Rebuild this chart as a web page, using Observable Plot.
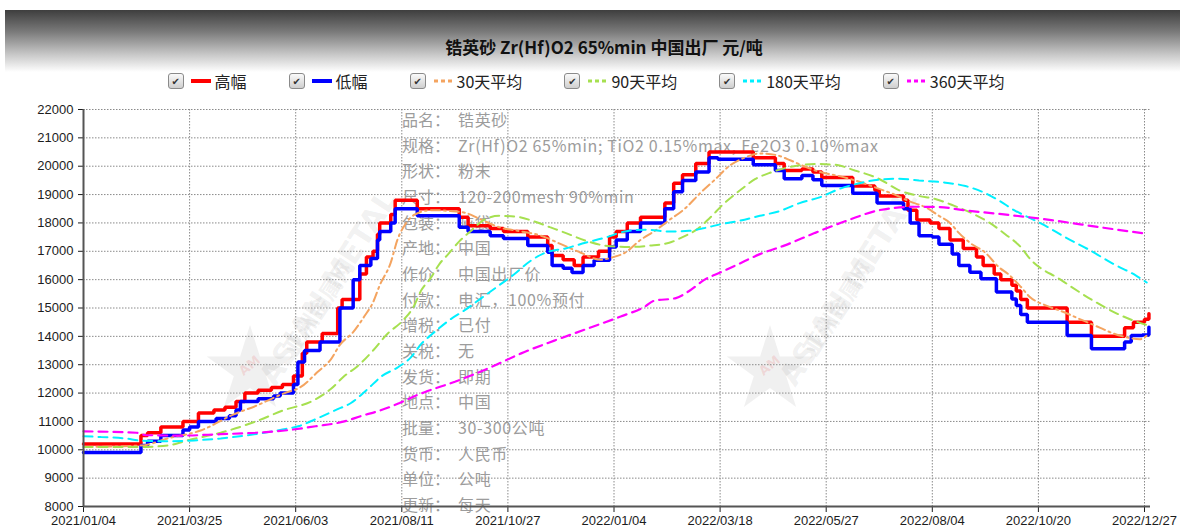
<!DOCTYPE html>
<html><head><meta charset="utf-8">
<script src="https://cdn.jsdelivr.net/npm/d3@7"></script>
<script src="https://cdn.jsdelivr.net/npm/@observablehq/plot@0.6"></script>
<style>
html,body{margin:0;padding:0;background:#fff;width:1180px;height:529px;overflow:hidden;font-family:"Liberation Sans",Arial,sans-serif}
#header{position:absolute;left:5px;top:10px;width:1175px;height:62px;background:linear-gradient(to bottom,#3e3e3e 0%,#7a7a7a 35%,#c4c4c4 70%,#ffffff 100%)}
#title{position:absolute;top:35px;left:14px;width:1180px;text-align:center;font:bold 17px "Noto Sans CJK SC",sans-serif;color:#111;line-height:24px}
#legend{position:absolute;top:71px;left:-4px;width:1180px;display:flex;justify-content:center;gap:42px;font:16px "Noto Sans CJK SC",sans-serif;color:#222;line-height:20px}
.item{display:flex;align-items:center}
.cb{width:14px;height:14px;border:1px solid #8a8a8a;border-radius:3px;background:linear-gradient(#fafafa,#cfcfcf);font:10px "DejaVu Sans";color:#333;display:flex;align-items:center;justify-content:center;margin-right:7px}
.sw{margin-right:4px}
#chart{position:absolute;left:0;top:95px;z-index:2}
#info{position:absolute;left:402px;top:107px;z-index:1;font:16px "Noto Sans CJK SC",sans-serif;color:#9c9c9c;line-height:25.67px;white-space:nowrap}
#info .lab{display:inline-block;width:56px;letter-spacing:0}
#info .val{letter-spacing:0.65px}
.wm{position:absolute;z-index:0;color:rgba(120,120,120,0.11);font:bold 30px "DejaVu Sans",sans-serif;white-space:nowrap;transform-origin:center}
.wm2{position:absolute;z-index:0;color:rgba(120,120,120,0.11);font:bold 22px "Noto Sans CJK SC",sans-serif;white-space:nowrap;transform-origin:center}
.star{position:absolute;z-index:0;width:90px;height:90px;background:rgba(150,150,150,0.14);clip-path:polygon(50% 0%,61% 35%,98% 35%,68% 57%,79% 91%,50% 70%,21% 91%,32% 57%,2% 35%,39% 35%)}
.am{position:absolute;z-index:0;color:rgba(230,80,80,0.16);font:bold 13px "DejaVu Sans";transform:rotate(-40deg)}
</style>
</head><body>
<div id="header"></div>
<div id="title">锆英砂 Zr(Hf)O2 65%min 中国出厂 元/吨</div>
<div id="legend"></div>
<div class="star" style="left:205px;top:325px"></div><div class="am" style="left:238px;top:358px">AM</div>
<div class="wm" style="left:215px;top:270px;transform:rotate(-57deg)">ASIAN METAL</div>
<div class="wm2" style="left:262px;top:290px;transform:rotate(-57deg)">亚洲金属网</div>
<div class="star" style="left:725px;top:325px"></div><div class="am" style="left:758px;top:358px">AM</div>
<div class="wm" style="left:735px;top:270px;transform:rotate(-57deg)">ASIAN METAL</div>
<div class="wm2" style="left:782px;top:290px;transform:rotate(-57deg)">亚洲金属网</div>
<div id="info"></div>
<div id="chart"></div>
<script>
// x positions are trading-day indices; tick labels every 48 trading days
const tickDays = [0,48,96,144,192,240,288,336,384,432,480];
const tickLabels = ["2021/01/04","2021/03/25","2021/06/03","2021/08/11","2021/10/27","2022/01/04","2022/03/18","2022/05/27","2022/08/04","2022/10/20","2022/12/27"];
const yTicks = [8000,9000,10000,11000,12000,13000,14000,15000,16000,17000,18000,19000,20000,21000,22000];

const seriesNames = ["高幅","低幅","30天平均","90天平均","180天平均","360天平均"];

// [trading day, price] — step changes
const highPrice = [[0,10200],[26,10500],[29,10600],[35,10800],[45,11000],[52,11300],[59,11400],[64,11500],[69,11700],[73,12000],[79,12100],[85,12200],[90,12300],[95,12600],[99,13400],[101,13800],[108,14100],[115,15000],[117,15300],[125,16200],[128,16800],[131,17000],[133,17600],[134,18000],[139,18300],[141,18800],[151,18500],[170,18200],[174,17900],[184,17800],[190,17700],[201,17500],[210,17200],[212,16850],[217,16700],[222,16500],[226,16800],[233,17000],[238,17500],[241,17700],[246,18000],[252,18200],[263,18700],[267,19400],[271,19700],[277,20100],[283,20500],[303,20300],[313,20100],[317,19850],[325,19900],[330,19800],[334,19600],[348,19300],[358,19150],[360,18950],[371,18800],[373,18450],[377,18100],[383,18000],[387,17800],[392,17400],[398,17100],[404,16800],[407,16500],[412,16200],[415,16000],[420,15800],[422,15600],[424,15300],[427,15000],[445,14500],[456,14000],[471,14300],[475,14500],[480,14600],[482,14800]];
const lowPrice = [[0,9900],[26,10150],[29,10300],[35,10500],[45,10700],[48,10800],[52,11000],[60,11100],[66,11200],[69,11400],[71,11700],[79,11800],[86,11900],[89,12000],[95,12300],[97,13100],[100,13500],[107,13800],[116,15000],[122,16000],[125,16500],[130,16750],[133,17400],[134,17700],[139,18000],[141,18500],[151,18250],[170,17850],[174,17700],[184,17550],[190,17450],[201,17200],[210,16970],[212,16500],[217,16400],[221,16250],[226,16500],[231,16680],[238,17150],[241,17400],[246,17700],[252,18000],[263,18500],[267,19100],[271,19500],[277,19800],[283,20300],[287,20250],[303,20050],[313,19850],[317,19560],[325,19670],[330,19520],[334,19320],[348,19050],[359,18700],[371,18500],[374,18000],[378,17550],[384,17500],[387,17250],[393,16900],[396,16500],[401,16260],[406,16030],[413,15560],[420,15320],[422,15090],[424,14770],[427,14500],[445,14030],[456,13560],[471,13800],[474,14030],[479,14050],[482,14320]];

// moving averages [trading day, price]
const avg30 = [[0,10100],[26,10150],[39,10420],[53,10680],[68,11250],[78,11550],[91,12000],[98,12200],[106,12750],[112,13200],[116,13700],[122,14150],[127,14700],[131,15200],[134,15800],[139,16600],[142,17400],[146,18000],[150,18300],[157,18450],[166,18420],[173,18350],[179,18150],[188,17850],[198,17700],[207,17550],[216,17250],[225,16950],[234,16700],[239,16780],[245,16950],[252,17400],[259,17750],[265,18100],[272,18500],[279,19050],[286,19550],[292,20000],[299,20300],[306,20450],[313,20400],[320,20200],[326,20000],[333,19800],[342,19650],[351,19450],[360,19200],[367,19000],[374,18750],[381,18550],[387,18250],[392,18000],[396,17650],[401,17300],[408,16950],[414,16450],[419,16150],[424,15750],[428,15400],[435,15100],[442,14900],[451,14600],[460,14300],[466,14100],[473,13950],[478,13900],[482,14100]];
const avg90 = [[0,10100],[26,10100],[38,10150],[47,10330],[62,10600],[78,11000],[90,11380],[104,11740],[112,12150],[118,12600],[124,12950],[131,13500],[137,14050],[145,14600],[149,15000],[153,15650],[157,16050],[161,16550],[165,16900],[170,17350],[175,17700],[181,18100],[188,18250],[196,18220],[204,18050],[211,17850],[218,17650],[227,17380],[236,17200],[247,17150],[256,17200],[265,17300],[271,17500],[278,17800],[283,18150],[290,18700],[297,19150],[304,19550],[311,19780],[320,19980],[331,20080],[340,20050],[349,19850],[360,19550],[369,19150],[378,18950],[385,18850],[394,18600],[403,18300],[410,18000],[417,17600],[424,17150],[428,16750],[442,16000],[457,15250],[469,14750],[477,14500],[481,14400]];
const avg180 = [[0,10480],[8,10450],[19,10400],[26,10320],[37,10300],[50,10330],[62,10400],[75,10520],[89,10700],[98,10850],[105,11080],[114,11400],[121,11650],[128,12100],[135,12600],[142,12900],[148,13250],[153,13750],[158,14100],[166,14600],[173,14950],[180,15350],[188,15800],[195,16200],[202,16650],[209,16950],[218,17100],[227,17300],[236,17480],[245,17700],[254,17760],[265,17700],[274,17720],[281,17820],[288,17950],[297,18080],[306,18250],[315,18420],[324,18700],[333,18900],[342,19200],[351,19400],[360,19530],[369,19560],[378,19500],[390,19420],[399,19300],[408,19050],[414,18800],[421,18450],[428,18180],[434,17950],[444,17500],[455,17050],[466,16550],[476,16150],[481,15900]];
const avg360 = [[0,10650],[24,10600],[28,10520],[44,10500],[62,10550],[78,10600],[91,10680],[105,10830],[118,11000],[126,11200],[134,11380],[143,11650],[150,11900],[155,12050],[168,12400],[184,12900],[198,13400],[213,13850],[229,14300],[243,14700],[254,15050],[258,15250],[268,15350],[274,15600],[281,16000],[288,16250],[295,16500],[306,16900],[317,17200],[331,17650],[346,18100],[360,18450],[376,18570],[387,18560],[398,18450],[414,18320],[433,18150],[451,17950],[466,17780],[481,17620]];

const infoLabels = ["品名：","规格：","形状：","尺寸：","包装：","产地：","作价：","付款：","增税：","关税：","发货：","地点：","批量：","货币：","单位：","更新："];
const infoValues = ["锆英砂","Zr(Hf)O2 65%min; TiO2 0.15%max, Fe2O3 0.10%max","粉末","120-200mesh 90%min","吨袋","中国","中国出厂价","电汇，100%预付","已付","无","即期","中国","30-300公吨","人民币","公吨","每天"];

// styles
const seriesColors = ["#ff0000","#0000ff","#f4a460","#a6e050","#00f0ff","#ff00ff"];
const seriesDash = [null,null,"9,4,2,4","9,6","9,6","9,6"];
const seriesWidth = [3.5,3.5,2,2,2,2.2];

const rows = pairs => pairs.map(([d, v]) => ({d, v}));

// legend
const legend = document.getElementById("legend");
seriesNames.forEach((name, i) => {
  const it = document.createElement("div");
  it.className = "item";
  const solid = !seriesDash[i];
  it.innerHTML = `<span class="cb">✔</span><svg class="sw" width="20" height="6"><line x1="0" x2="20" y1="3" y2="3" stroke="${seriesColors[i]}" stroke-width="${solid ? 4 : 3}" ${solid ? "" : 'stroke-dasharray="4,3" stroke-dashoffset="-1"'}/></svg><span>${name}</span>`;
  legend.appendChild(it);
});

// info panel
document.getElementById("info").innerHTML = infoLabels.map((l, i) => `<div><span class="lab">${l}</span><span class="val">${infoValues[i]}</span></div>`).join("");

const series = [highPrice, lowPrice, avg30, avg90, avg180, avg360];
const lineMarks = series.map((s, i) => Plot.line(rows(s), {
  x: "d", y: "v",
  curve: i < 2 ? "step-after" : "monotone-x",
  stroke: seriesColors[i],
  strokeWidth: seriesWidth[i],
  strokeDasharray: seriesDash[i] || undefined,
  strokeLinejoin: "miter"
}));

const chart = Plot.plot({
  width: 1180, height: 434,
  marginLeft: 83, marginRight: 30, marginTop: 14, marginBottom: 23,
  style: {background: "transparent", fontSize: "13px", fontFamily: "'Liberation Sans', Arial, sans-serif", color: "#1c1c1c", overflow: "visible"},
  x: {domain: [0, 480], range: [83, 1144], ticks: tickDays, tickFormat: d => tickLabels[tickDays.indexOf(d)], tickSize: 6, tickPadding: 3, label: null},
  y: {domain: [8000, 22000], ticks: yTicks, tickFormat: d => String(d), tickSize: 5, tickPadding: 5, label: null},
  marks: [
    Plot.ruleY(yTicks, {stroke: "#8a8a8a", strokeDasharray: "1.5,1.5", strokeWidth: 1}),
    Plot.ruleX(tickDays, {stroke: "#8a8a8a", strokeDasharray: "1.5,1.5", strokeWidth: 1}),
    ...lineMarks,
    Plot.ruleX([0], {stroke: "#555", strokeWidth: 2}),
    Plot.ruleY([8000], {stroke: "#555", strokeWidth: 2})
  ]
});
document.getElementById("chart").appendChild(chart);
</script>
</body></html>
